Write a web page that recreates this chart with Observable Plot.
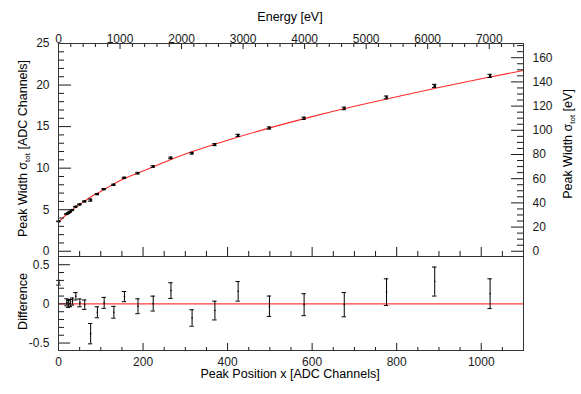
<!DOCTYPE html>
<html><head><meta charset="utf-8">
<script src="https://cdn.jsdelivr.net/npm/d3@7"></script>
<script src="https://cdn.jsdelivr.net/npm/@observablehq/plot@0.6"></script>
<style>
body{margin:0;background:#fff;}
#chart{position:relative;width:581px;height:394px;background:#fff;}
#chart svg{position:absolute;left:0;overflow:visible;}
</style></head><body><div id="chart"></div>
<script>
// ---- data ----
const peakPos   = [1, 20, 24, 28, 33, 41, 50.6, 62, 76, 92, 108, 131, 156, 188, 224, 266, 316, 370, 425, 499, 581, 676, 776, 890, 1021];
const peakWidth = [3.6, 4.48, 4.6, 4.76, 4.96, 5.36, 5.64, 6.0, 6.16, 6.88, 7.48, 8.0, 8.84, 9.4, 10.2, 11.23, 11.8, 12.83, 13.95, 14.83, 16.0, 17.19, 18.51, 19.9, 21.1];
const residual  = [0.27, 0.02, 0.0, 0.01, 0.03, 0.097, 0.013, -0.01, -0.38, -0.107, 0.013, -0.107, 0.093, -0.03, 0.004, 0.17, -0.18, -0.085, 0.16, -0.03, -0.01, -0.01, 0.15, 0.285, 0.13];
const errors    = [0.03, 0.045, 0.045, 0.045, 0.045, 0.047, 0.05, 0.06, 0.13, 0.07, 0.07, 0.075, 0.065, 0.095, 0.095, 0.10, 0.105, 0.12, 0.125, 0.13, 0.14, 0.155, 0.17, 0.185, 0.19];
const fitX = [0, 25, 50, 75, 100, 150, 200, 250, 300, 400, 500, 600, 700, 800, 900, 1000, 1100];
const fitY = [3.5, 4.7, 5.6, 6.5, 7.2, 8.6, 9.65, 10.7, 11.7, 13.35, 14.85, 16.2, 17.45, 18.6, 19.7, 20.75, 21.75];
const evPerChannel = 6.87; // calibration read from the top / right axes
const channelTicks = [0, 200, 400, 600, 800, 1000];
const widthTicks = [0, 5, 10, 15, 20, 25];
const energyTicks = [0, 1000, 2000, 3000, 4000, 5000, 6000, 7000];
const evWidthTicks = [0, 20, 40, 60, 80, 100, 120, 140, 160];
const diffTicks = [-0.5, 0, 0.5];
const diffTickLabels = ["-0.5", "0", "0.5"];

// ---- layout ----
const W = 581, mL = 58, mR = 58;
const font = "'Liberation Sans', Arial, Helvetica, sans-serif";
const pts = peakPos.map((x, i) => ({x, y: peakWidth[i], e: errors[i], r: residual[i]}));
const fit = fitX.map((x, i) => ({x, y: fitY[i]}));
const xDomain = [0, 1100];
const capHalf = 2.2 * (xDomain[1] - xDomain[0]) / (W - mL - mR);
const ink = "#1a1a1a";

const chMinor = d3.range(50, 1100, 50).filter(v => v % 200 !== 0);
const wMinor = d3.range(1, 25).filter(v => v % 5 !== 0);
const eMinor = d3.range(200, 7600, 200).filter(v => v % 1000 !== 0);
const evMinor = d3.range(5, 175, 5).filter(v => v % 20 !== 0);
const dMinor = d3.range(-5, 6).filter(v => v % 5 !== 0).map(v => v / 10);

const blank = () => "";

const topPlot = Plot.plot({
  width: W, height: 256, marginLeft: mL, marginRight: mR, marginTop: 43, marginBottom: 0,
  x: {domain: xDomain, label: null},
  y: {domain: [-0.63, 25], label: null},
  style: {fontFamily: font, fontSize: "12px", color: ink, background: "transparent", overflow: "visible"},
  marks: [
    Plot.line(fit, {x: "x", y: "y", stroke: "#ff2b2b", strokeWidth: 1.1, curve: "natural"}),
    Plot.ruleX(pts, {x: "x", y1: d => d.y - d.e, y2: d => d.y + d.e, stroke: "#000"}),
    Plot.ruleY(pts, {y: d => d.y - d.e, x1: d => d.x - capHalf, x2: d => d.x + capHalf, stroke: "#000"}),
    Plot.ruleY(pts, {y: d => d.y + d.e, x1: d => d.x - capHalf, x2: d => d.x + capHalf, stroke: "#000"}),
    Plot.dot(pts, {x: "x", y: "y", r: 1.3, symbol: "square", fill: "#000"}),
    Plot.axisY({anchor: "left", ticks: widthTicks, tickSize: -13, tickPadding: 22, tickFormat: d => String(d), label: null}),
    Plot.axisY({anchor: "left", ticks: wMinor, tickSize: -6, tickFormat: blank, label: null}),
    Plot.axisY({anchor: "right", ticks: evWidthTicks.map(v => v / evPerChannel), tickSize: -13, tickPadding: 22,
      tickFormat: d => String(Math.round(d * evPerChannel)), label: null}),
    Plot.axisY({anchor: "right", ticks: evMinor.map(v => v / evPerChannel), tickSize: -7, tickFormat: blank, label: null}),
    Plot.axisX({anchor: "top", ticks: energyTicks.map(v => v / evPerChannel), tickSize: -5, tickPadding: 6,
      tickFormat: d => String(Math.round(d * evPerChannel)), label: null}),
    Plot.axisX({anchor: "top", ticks: eMinor.map(v => v / evPerChannel), tickSize: -3, tickFormat: blank, label: null}),
    Plot.axisX({anchor: "bottom", ticks: channelTicks, tickSize: -9, tickFormat: blank, label: null}),
    Plot.axisX({anchor: "bottom", ticks: chMinor, tickSize: -5, tickFormat: blank, label: null}),
    Plot.frame({stroke: "#333"})
  ]
});

const bottomPlot = Plot.plot({
  width: W, height: 138, marginLeft: mL, marginRight: mR, marginTop: 0, marginBottom: 44,
  x: {domain: xDomain, label: null},
  y: {domain: [-0.595, 0.605], label: null},
  style: {fontFamily: font, fontSize: "12px", color: ink, background: "transparent", overflow: "visible"},
  marks: [
    Plot.ruleY([0], {stroke: "#ff3b3b", strokeWidth: 1.2}),
    Plot.ruleX(pts, {x: "x", y1: d => d.r - d.e, y2: d => d.r + d.e, stroke: "#000"}),
    Plot.ruleY(pts, {y: d => d.r - d.e, x1: d => d.x - capHalf, x2: d => d.x + capHalf, stroke: "#000"}),
    Plot.ruleY(pts, {y: d => d.r + d.e, x1: d => d.x - capHalf, x2: d => d.x + capHalf, stroke: "#000"}),
    Plot.dot(pts, {x: "x", y: "r", r: 0.8, fill: "#000"}),
    Plot.axisY({anchor: "left", ticks: diffTicks, tickSize: -12, tickPadding: 21,
      tickFormat: d => diffTickLabels[diffTicks.indexOf(d)], label: null}),
    Plot.axisY({anchor: "left", ticks: dMinor, tickSize: -6, tickFormat: blank, label: null}),
    Plot.axisX({anchor: "bottom", ticks: channelTicks, tickSize: -7, tickPadding: 13.5, tickFormat: d => String(d), label: null}),
    Plot.axisX({anchor: "bottom", ticks: chMinor, tickSize: -3, tickFormat: blank, label: null}),
    Plot.frame({stroke: "#333"})
  ]
});

const chart = document.getElementById("chart");
topPlot.style.top = "0px";
bottomPlot.style.top = "256px";
chart.appendChild(topPlot);
chart.appendChild(bottomPlot);

function addLabel(svg, x, y, rotate, parts) {
  const t = d3.select(svg).append("text")
    .attr("transform", `translate(${x},${y}) rotate(${rotate})`)
    .attr("text-anchor", "middle")
    .attr("font-family", font).attr("font-size", 12.5).attr("fill", "#000");
  for (const p of parts) {
    const s = t.append("tspan").text(p.text);
    if (p.sub) s.attr("font-size", 8).attr("dy", 2.5);
    if (p.after) s.attr("dy", -2.5);
  }
}
addLabel(topPlot, 290, 21, 0, [{text: "Energy [eV]"}]);
addLabel(topPlot, 27, 148.5, -90, [{text: "Peak Width σ"}, {text: "tot", sub: true}, {text: " [ADC Channels]", after: true}]);
addLabel(topPlot, 572, 144, -90, [{text: "Peak Width σ"}, {text: "tot", sub: true}, {text: " [eV]", after: true}]);
addLabel(bottomPlot, 27, 301.5 - 256, -90, [{text: "Difference"}]);
addLabel(bottomPlot, 290, 378 - 256, 0, [{text: "Peak Position x [ADC Channels]"}]);
</script></body></html>
